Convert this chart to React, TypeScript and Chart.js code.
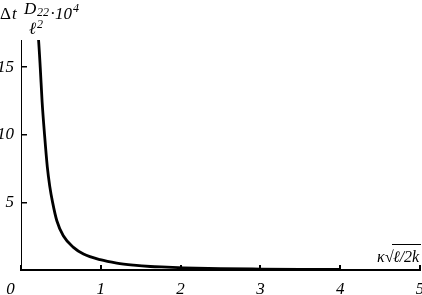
import React, { useEffect, useRef } from "react";
import { Chart, registerables } from "chart.js";

Chart.register(...registerables);

// Curve (x = κ√(ℓ/2k), y = Δt·D22/ℓ²·10⁴)
const curveX = [0.21, 0.22, 0.241, 0.265, 0.295, 0.33, 0.36, 0.396, 0.449, 0.53, 0.657, 0.783, 0.992, 1.2, 1.41, 1.62, 1.83, 2.04, 2.5, 3.0, 3.5, 4.0];
const curveY = [17.6, 17.0, 15.0, 12.4, 10.0, 7.6, 6.2, 5.0, 3.64, 2.53, 1.67, 1.18, 0.76, 0.51, 0.36, 0.26, 0.21, 0.16, 0.1, 0.07, 0.05, 0.04];

const xTicks = [0, 1, 2, 3, 4, 5];
const yTicks = [5, 10, 15];
const xRange = [0, 5];
const yRange = [0, 17];

const SERIF = '"Liberation Serif", "Times New Roman", "DejaVu Serif", serif';

export default function App() {
  const ref = useRef<HTMLCanvasElement>(null);

  useEffect(() => {
    const canvas = ref.current;
    if (!canvas) return;

    const titles = {
      id: "axisTitles",
      afterDraw(chart: any) {
        const ctx = chart.ctx as CanvasRenderingContext2D;
        ctx.save();
        ctx.fillStyle = "#000";
        ctx.strokeStyle = "#000";
        ctx.textBaseline = "alphabetic";
        ctx.textAlign = "left";
        // y title: Δt D22/ℓ² ·10⁴
        ctx.font = `17px ${SERIF}`;
        ctx.fillText("Δ", 0, 19);
        ctx.font = `italic 17px ${SERIF}`;
        ctx.fillText("t", 12, 19);
        ctx.fillText("D", 24, 14);
        ctx.font = `italic 12px ${SERIF}`;
        ctx.fillText("22", 37, 16);
        ctx.font = `italic 17px ${SERIF}`;
        ctx.fillText("ℓ", 29, 34);
        ctx.font = `italic 12px ${SERIF}`;
        ctx.fillText("2", 37, 28);
        ctx.font = `17px ${SERIF}`;
        ctx.fillText("·", 50, 19);
        ctx.font = `italic 17px ${SERIF}`;
        ctx.fillText("10", 55, 19);
        ctx.font = `italic 12px ${SERIF}`;
        ctx.fillText("4", 73, 12);
        // x title: κ√(ℓ/2k)
        ctx.font = `italic 16px ${SERIF}`;
        ctx.fillText("κ", 377, 262);
        ctx.font = `16px ${SERIF}`;
        ctx.fillText("√", 385, 262);
        ctx.font = `italic 16px ${SERIF}`;
        ctx.fillText("ℓ/2k", 393, 262);
        ctx.lineWidth = 1;
        ctx.beginPath();
        ctx.moveTo(392, 244.5);
        ctx.lineTo(421, 244.5);
        ctx.stroke();
        ctx.restore();
      },
    };

    const chart = new Chart(canvas, {
      type: "line",
      data: {
        datasets: [
          {
            data: curveX.map((x, i) => ({ x, y: curveY[i] })),
            borderColor: "#000",
            borderWidth: 2.8,
            pointRadius: 0,
            fill: false,
            cubicInterpolationMode: "monotone",
          },
        ],
      },
      options: {
        responsive: false,
        animation: false,
        events: [],
        layout: { padding: { top: 40, right: 2, left: 0, bottom: 0 } },
        plugins: { legend: { display: false }, tooltip: { enabled: false }, title: { display: false } },
        scales: {
          x: {
            type: "linear",
            min: xRange[0],
            max: xRange[1],
            afterBuildTicks: (scale: any) => {
              scale.ticks = xTicks.map((value) => ({ value }));
            },
            afterFit: (scale: any) => {
              scale.height = 25;
              scale.paddingLeft = 0;
              scale.paddingRight = 0;
            },
            border: { display: true, color: "#000", width: 2 },
            grid: {
              drawOnChartArea: false,
              drawTicks: true,
              tickLength: -5,
              tickWidth: 2,
              tickColor: "#000",
              color: "#000",
              lineWidth: 2,
            },
            ticks: {
              color: "#000",
              padding: 14,
              maxRotation: 0,
              autoSkip: false,
              font: { family: SERIF, style: "italic", size: 17 },
              callback: (v: any) => (Number(v) === 0 ? "0     " : String(v)),
            },
          },
          y: {
            type: "linear",
            min: yRange[0],
            max: yRange[1],
            afterBuildTicks: (scale: any) => {
              scale.ticks = yTicks.map((value) => ({ value }));
            },
            afterFit: (scale: any) => {
              scale.width = 21;
              scale.paddingTop = 0;
              scale.paddingBottom = 0;
            },
            border: { display: true, color: "#000", width: 1 },
            grid: {
              drawOnChartArea: false,
              drawTicks: true,
              tickLength: -6,
              tickWidth: 1.5,
              tickColor: "#000",
              color: "#000",
              lineWidth: 1.5,
            },
            ticks: {
              color: "#000",
              padding: 13,
              autoSkip: false,
              font: { family: SERIF, style: "italic", size: 17 },
              callback: (v: any) => String(v),
            },
          },
        },
      },
      plugins: [titles],
    } as any);

    return () => chart.destroy();
  }, []);

  return (
    <div style={{ position: "fixed", left: 0, top: 0, width: 422, height: 295, background: "#fff" }}>
      <canvas ref={ref} width={422} height={295} style={{ display: "block", width: 422, height: 295 }} />
    </div>
  );
}
